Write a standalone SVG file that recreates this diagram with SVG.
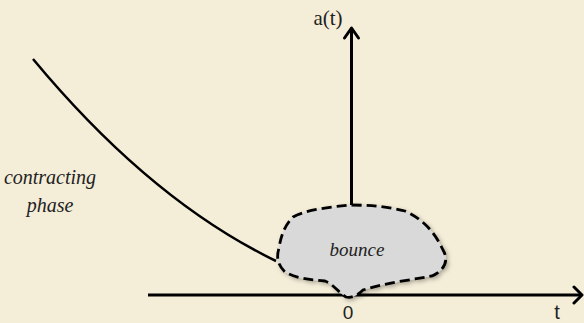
<svg xmlns="http://www.w3.org/2000/svg" width="584" height="323" viewBox="0 0 584 323">
<defs>
<style>
.ax{stroke:#000;stroke-width:3;fill:none}
.arr{stroke:#000;stroke-width:3;fill:none;stroke-linecap:round;stroke-linejoin:round}
.lbl{font-family:'Liberation Sans','DejaVu Sans',sans-serif;fill:#222}
</style>
<filter id="sh" x="-10%" y="-10%" width="130%" height="130%">
<feDropShadow dx="2" dy="2" stdDeviation="2" flood-color="#000" flood-opacity="0.3"/>
</filter>
</defs>
<rect width="584" height="323" fill="#F4EDD8"/>
<g id="connectors">
<path class="ax" d="M148,295 H582"/>
<path class="arr" d="M574,287 L582,295 L574,303"/>
<path class="ax" d="M351.5,207 V29"/>
<path class="arr" d="M344.5,38 L351.5,28 L358.5,38"/>
<path d="M33,59 Q150,200 276,261" stroke="#000" stroke-width="2.5" fill="none"/>
</g>
<g id="bounce">
<path filter="url(#sh)" d="M293,217 C305,210 330,207 350,205 C370,205 390,207 405,211 C425,220 436,235 443,250 C449,260 445,270 432,276 C410,280 385,283 363,290 C356,297 350,298 346,297 C338,292 333,284 325,281 C310,280 295,278 285,272 C278,265 276,258 279,248 C281,235 285,225 293,217 Z" fill="#D9D9D9" stroke="#000" stroke-width="2.8" stroke-dasharray="10,5"/>
<text x="357" y="256" font-family="Liberation Serif, serif" font-style="italic" fill="#222" font-size="19" text-anchor="middle">bounce</text>
</g>
<g id="contracting">
<text x="50" y="184" font-family="Liberation Serif, serif" font-style="italic" fill="#222" font-size="20" text-anchor="middle">contracting</text>
<text x="50" y="212" font-family="Liberation Serif, serif" font-style="italic" fill="#222" font-size="20" text-anchor="middle">phase</text>
</g>
<g id="labels">
<text x="328" y="25" font-family="Liberation Serif, serif" fill="#222" font-size="21" text-anchor="middle">a(t)</text>
<text class="lbl" x="348" y="319" font-size="19" text-anchor="middle">0</text>
<text class="lbl" x="557" y="319" font-size="20" text-anchor="middle">t</text>
</g>
</svg>
